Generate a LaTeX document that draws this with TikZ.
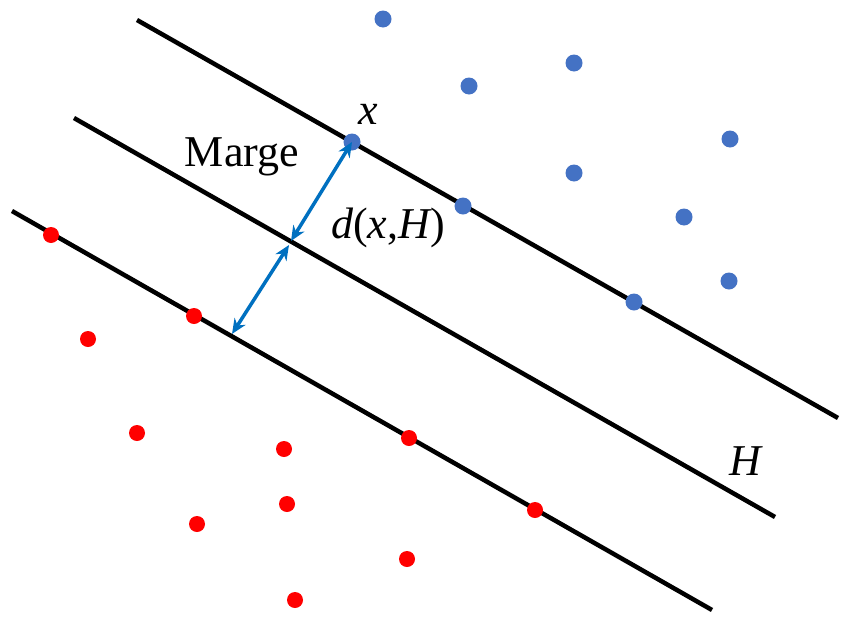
\documentclass[tikz,border=0pt]{standalone}
\usepackage{fontspec}
\setmainfont{Liberation Serif}
\usetikzlibrary{arrows.meta}
\definecolor{ptblue}{RGB}{68,114,196}
\definecolor{arrblue}{RGB}{0,112,192}
\begin{document}
\begin{tikzpicture}[x=1pt,y=-1pt]
	\tikzstyle{bpt}=[circle,fill=ptblue,inner sep=0pt,minimum size=17pt];
	\tikzstyle{rpt}=[circle,fill=red,inner sep=0pt,minimum size=16pt];
	\tikzstyle{hyp}=[line width=4.5pt];
	\tikzstyle{dist}=[arrblue,line width=3.5pt,{Stealth[length=15pt,width=13pt]}-{Stealth[length=15pt,width=13pt]}];
	\tikzstyle{lbl}=[font=\fontsize{44}{52}\selectfont,inner sep=0pt];
	\useasboundingbox (0,0) rectangle (851,624);
	% the three lines
	\coordinate (ta) at (137,20);  \coordinate (tb) at (838,418);
	\coordinate (ma) at (74,118);  \coordinate (mb) at (775,517);
	\coordinate (ba) at (12,211);  \coordinate (bb) at (712,610);
	\draw[hyp] (ta) -- (tb);
	\draw[hyp] (ma) -- (mb);
	\draw[hyp] (ba) -- (bb);
	% blue class
	\foreach \p [count=\i] in {(383,19),(469,86),(574,63),(730,139),(574,173),(684,217),(729,281),(463,206),(634,302)}
		\node[bpt] (b\i) at \p {};
	\node[bpt] (x) at (352,142) {};
	% red class
	\foreach \p [count=\i] in {(51,235),(88,339),(194,316),(137,433),(284,449),(409,438),(287,504),(197,524),(535,510),(407,559),(295,600)}
		\node[rpt] (r\i) at \p {};
	% margin arrows
	\coordinate (foot) at (291,241);
	\coordinate (foot2) at (289,245);
	\coordinate (low) at (232,334);
	\draw[dist] (x.center) -- (foot);
	\draw[dist] (foot2) -- (low);
	\node[lbl] (xl) at (368,114) {\itshape x};
	\node[lbl] (marge) at (242,157) {Marge};
	\node[lbl] (dxh) at (388,228) {\itshape d\upshape(\itshape x\upshape,\itshape H\upshape)};
	\node[lbl] (hl) at (745,461) {\itshape H};
\end{tikzpicture}
\end{document}
